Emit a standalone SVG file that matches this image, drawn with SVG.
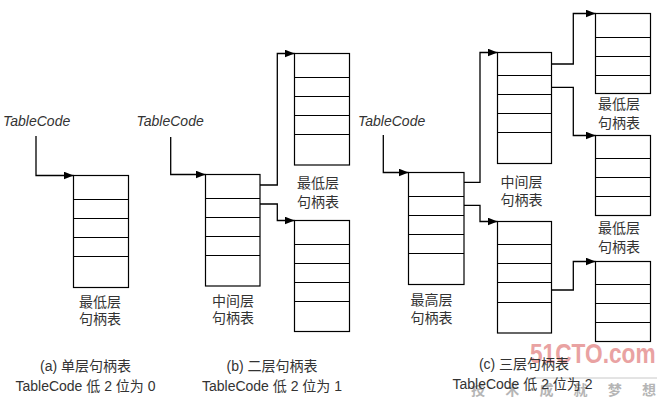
<svg xmlns="http://www.w3.org/2000/svg" width="665" height="402" viewBox="0 0 665 402">
<style>
.box rect{fill:#fff;stroke:#000;stroke-width:1.2}
.box line{stroke:#000;stroke-width:1.2}
.conn path{fill:none;stroke:#000;stroke-width:1.3;marker-end:url(#arr)}
.tc{font-family:"Liberation Sans","Noto Sans CJK SC",sans-serif;font-style:italic;font-size:14px;fill:#333}
.lbl{font-family:"Liberation Sans","Noto Sans CJK SC",sans-serif;font-size:14px;fill:#333;text-anchor:middle}
.wm{font-family:"Liberation Sans",sans-serif;font-weight:bold;font-size:27px;fill:#e9a2a2}
.wm2{font-family:"Noto Sans CJK SC",sans-serif;font-weight:bold;font-size:14px;fill:#b5b5b5}
</style>
<defs>
<marker id="arr" markerUnits="userSpaceOnUse" markerWidth="11" markerHeight="9" refX="10" refY="4" orient="auto">
<path d="M0,0 L10,4 L0,8 z" fill="#000"/>
</marker>
</defs>
<rect width="665" height="402" fill="#fff"/>

<g id="watermark">
<text class="wm" transform="translate(530,363) scale(0.84,1)" x="0" y="0">51CTO.com</text>
<line x1="530" y1="378" x2="657" y2="378" stroke="#c8c8c8" stroke-width="1"/>
<text class="wm2" x="471" y="395" textLength="185" lengthAdjust="spacing">技术成就梦想</text>
</g>

<g id="conn" class="conn">
<path d="M36,136 V175.5 H73.5"/>
<path d="M170.7,137 V174.5 H205.5"/>
<path d="M260,185 H277.3 V53.5 H294.5"/>
<path d="M260,204 H277.3 V220.5 H294.5"/>
<path d="M383.3,135 V172.5 H408.5"/>
<path d="M464,182.3 H480 V52.5 H497.5"/>
<path d="M464,205.3 H480 V221.5 H497.5"/>
<path d="M551.7,64 H573.3 V13.5 H595.5"/>
<path d="M551.7,87.3 H573.3 V135.5 H595.5"/>
<path d="M551.7,290 H573.3 V261.5 H595.5"/>
</g>

<g id="tc-a"><text class="tc" x="3" y="126">TableCode</text></g>
<g id="tc-b"><text class="tc" x="136.5" y="126">TableCode</text></g>
<g id="tc-c"><text class="tc" x="358" y="126">TableCode</text></g>

<g id="a-low" class="box">
<rect x="73.5" y="175.5" width="55" height="112"/>
<line x1="73.5" y1="199.5" x2="128.5" y2="199.5"/>
<line x1="73.5" y1="218.5" x2="128.5" y2="218.5"/>
<line x1="73.5" y1="237.5" x2="128.5" y2="237.5"/>
<line x1="73.5" y1="256.5" x2="128.5" y2="256.5"/>
<text class="lbl" x="100" y="307">最低层</text>
<text class="lbl" x="100" y="323.5">句柄表</text>
</g>

<g id="b-mid" class="box">
<rect x="205.5" y="174.5" width="54.5" height="111.5"/>
<line x1="205.5" y1="198.5" x2="260" y2="198.5"/>
<line x1="205.5" y1="217.5" x2="260" y2="217.5"/>
<line x1="205.5" y1="236.5" x2="260" y2="236.5"/>
<line x1="205.5" y1="255.5" x2="260" y2="255.5"/>
<text class="lbl" x="233" y="306">中间层</text>
<text class="lbl" x="233" y="322.5">句柄表</text>
</g>

<g id="b-low1" class="box">
<rect x="294.5" y="53.5" width="55" height="111.5"/>
<line x1="294.5" y1="77.5" x2="349.5" y2="77.5"/>
<line x1="294.5" y1="96.5" x2="349.5" y2="96.5"/>
<line x1="294.5" y1="115.5" x2="349.5" y2="115.5"/>
<line x1="294.5" y1="134.5" x2="349.5" y2="134.5"/>
<text class="lbl" x="318" y="188">最低层</text>
<text class="lbl" x="318" y="207">句柄表</text>
</g>

<g id="b-low2" class="box">
<rect x="294.5" y="220.5" width="55" height="111"/>
<line x1="294.5" y1="244.5" x2="349.5" y2="244.5"/>
<line x1="294.5" y1="263.5" x2="349.5" y2="263.5"/>
<line x1="294.5" y1="282.5" x2="349.5" y2="282.5"/>
<line x1="294.5" y1="301.5" x2="349.5" y2="301.5"/>
</g>

<g id="c-top" class="box">
<rect x="408.5" y="172.5" width="55.5" height="112"/>
<line x1="408.5" y1="196.5" x2="464" y2="196.5"/>
<line x1="408.5" y1="215.5" x2="464" y2="215.5"/>
<line x1="408.5" y1="234.5" x2="464" y2="234.5"/>
<line x1="408.5" y1="253.5" x2="464" y2="253.5"/>
<text class="lbl" x="431.5" y="304.5">最高层</text>
<text class="lbl" x="431.5" y="322.5">句柄表</text>
</g>

<g id="c-mid1" class="box">
<rect x="497.5" y="52.5" width="54" height="111"/>
<line x1="497.5" y1="75.5" x2="551.5" y2="75.5"/>
<line x1="497.5" y1="94.5" x2="551.5" y2="94.5"/>
<line x1="497.5" y1="113.5" x2="551.5" y2="113.5"/>
<line x1="497.5" y1="132.5" x2="551.5" y2="132.5"/>
<text class="lbl" x="521.5" y="187">中间层</text>
<text class="lbl" x="521.5" y="205">句柄表</text>
</g>

<g id="c-mid2" class="box">
<rect x="497.5" y="221.5" width="54" height="111.5"/>
<line x1="497.5" y1="244.5" x2="551.5" y2="244.5"/>
<line x1="497.5" y1="263.5" x2="551.5" y2="263.5"/>
<line x1="497.5" y1="282.5" x2="551.5" y2="282.5"/>
<line x1="497.5" y1="302.5" x2="551.5" y2="302.5"/>
</g>

<g id="c-low1" class="box">
<rect x="595.5" y="13.5" width="55" height="80"/>
<line x1="595.5" y1="37.5" x2="650.5" y2="37.5"/>
<line x1="595.5" y1="56.5" x2="650.5" y2="56.5"/>
<line x1="595.5" y1="75.5" x2="650.5" y2="75.5"/>
<text class="lbl" x="619" y="109">最低层</text>
<text class="lbl" x="619" y="128">句柄表</text>
</g>

<g id="c-low2" class="box">
<rect x="595.5" y="135.5" width="55" height="80"/>
<line x1="595.5" y1="158.5" x2="650.5" y2="158.5"/>
<line x1="595.5" y1="177.5" x2="650.5" y2="177.5"/>
<line x1="595.5" y1="196.5" x2="650.5" y2="196.5"/>
<text class="lbl" x="619" y="233">最低层</text>
<text class="lbl" x="619" y="251.5">句柄表</text>
</g>

<g id="c-low3" class="box">
<rect x="595.5" y="261.5" width="55" height="80"/>
<line x1="595.5" y1="284.5" x2="650.5" y2="284.5"/>
<line x1="595.5" y1="303.5" x2="650.5" y2="303.5"/>
<line x1="595.5" y1="322.5" x2="650.5" y2="322.5"/>
</g>

<g id="captions">
<text class="lbl" x="85.5" y="370.5">(a) 单层句柄表</text>
<text class="lbl" x="85.5" y="390.5">TableCode 低 2 位为 0</text>
<text class="lbl" x="272" y="370.5">(b) 二层句柄表</text>
<text class="lbl" x="272" y="390.5">TableCode 低 2 位为 1</text>
<text class="lbl" x="524" y="369">(c) 三层句柄表</text>
<text class="lbl" x="522.5" y="389">TableCode 低 2 位为 2</text>
</g>
</svg>
